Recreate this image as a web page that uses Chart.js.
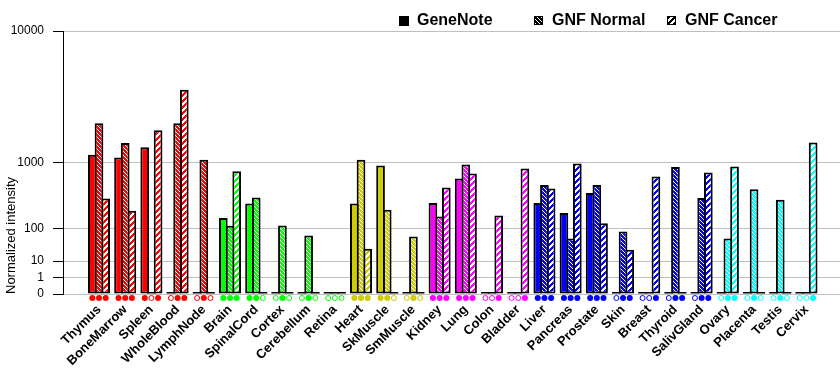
<!DOCTYPE html>
<html>
<head>
<meta charset="utf-8">
<script src="https://cdn.jsdelivr.net/npm/chart.js@4"></script>
<style>
html,body{margin:0;padding:0;background:#fff}
#wrap{width:840px;height:385px}
</style>
</head>
<body>
<div id="wrap"><canvas id="c" width="840" height="385"></canvas></div>
<script>
const tissues=["Thymus","BoneMarrow","Spleen","WholeBlood","LymphNode","Brain","SpinalCord","Cortex","Cerebellum","Retina","Heart","SkMuscle","SmMuscle","Kidney","Lung","Colon","Bladder","Liver","Pancreas","Prostate","Skin","Breast","Thyroid","SalivGland","Ovary","Placenta","Testis","Cervix"]

// null = not measured (hollow marker), 0 = measured, nothing to draw
const geneNote=[1210,1135,1440,null,null,162,290,null,null,null,290,927,null,294,652,null,null,294,200,416,null,null,null,null,null,null,null,null]
const gnfNormal=[2380,1580,null,2380,1070,113,359,115,68,null,1070,228,64,173,951,null,null,536,57,536,85,null,891,351,57,468,331,null]
const gnfCancer=[347,219,2070,4320,null,793,null,null,null,null,29,null,null,498,750,181,859,482,977,127,27,689,0,771,904,null,null,1600]

const seriesNames=["GeneNote","GNF Normal","GNF Cancer"]
const tickValues=[0,1,10,100,1000,10000]

const tissueColors=["#ff0000","#ff0000","#ff0000","#ff0000","#ff0000",
"#00ff00","#00ff00","#00ff00","#00ff00","#00ff00",
"#cccc00","#cccc00","#cccc00",
"#ff00ff","#ff00ff","#ff00ff","#ff00ff",
"#0000ff","#0000ff","#0000ff","#0000ff","#0000ff","#0000ff","#0000ff",
"#00ffff","#00ffff","#00ffff","#00ffff"]

// axis of the original: each decade gets half the height of the one above
function tr(v){
if(v==null||v<=0) return 0
return Math.pow(2,Math.log10(v))
}

const canvas=document.getElementById("c")
const ctx=canvas.getContext("2d")

function tile(color,kind){
let n=kind=="normal"?4:6
let t=document.createElement("canvas")
t.width=n;t.height=n
let g=t.getContext("2d")
if(kind=="normal"){
g.fillStyle=color;g.fillRect(0,0,n,n)
g.fillStyle="#fff"
for(let i=0;i<n;i++) g.fillRect(i,i,1,1)
}else{
g.fillStyle="#fff";g.fillRect(0,0,n,n)
g.fillStyle=color
for(let y=0;y<n;y++)for(let x=0;x<n;x++) if((x+y)%n<3) g.fillRect(x,y,1,1)
}
return ctx.createPattern(t,"repeat")
}

let patterns={}
function fill(color,s){
if(s==0) return color
let k=color+s
if(!patterns[k]) patterns[k]=tile(color,s==1?"normal":"cancer")
return patterns[k]
}

const raw=[geneNote,gnfNormal,gnfCancer]

const datasets=raw.map((arr,s)=>({
label:seriesNames[s],
data:arr.map((v,i)=>({x:i,y:tr(v)})),
backgroundColor:c=>{
if(!c.raw) return "#000"
return c.raw.y==0?"#000":fill(tissueColors[c.dataIndex],s)
},
borderColor:"#000",
borderWidth:c=>(c.raw&&c.raw.y==0)?0:2,
borderSkipped:false,
minBarLength:2,
categoryPercentage:0.765,
barPercentage:1.3
}))

const markers={
id:"markers",
afterDatasetsDraw(chart){
let g=chart.ctx
let y=chart.chartArea.bottom+4
chart.data.datasets.forEach((d,s)=>{
chart.getDatasetMeta(s).data.forEach((bar,i)=>{
let col=tissueColors[i]
g.save()
g.beginPath()
if(raw[s][i]==null){
g.arc(bar.x,y,2.5,0,Math.PI*2)
g.strokeStyle=col;g.lineWidth=1;g.fillStyle="#fff"
g.fill();g.stroke()
}else{
g.arc(bar.x,y,3,0,Math.PI*2)
g.fillStyle=col;g.fill()
}
g.restore()
})
})
}
}

const legendBox={
id:"legendBox",
afterDraw(chart){
let g=chart.ctx
let xs=[399,534,667]
g.save()
g.font="bold 16px 'Liberation Sans', Arial, sans-serif"
g.textBaseline="middle"
g.fillStyle="#000"
seriesNames.forEach((name,s)=>{
let x=xs[s]
if(s==0){
g.fillStyle="#000";g.fillRect(x,16,10,10)
}else{
g.fillStyle=fill("#000",s);g.fillRect(x,16,9,9)
g.strokeStyle="#000";g.lineWidth=1;g.strokeRect(x+0.5,16.5,8,8)
}
g.fillStyle="#000"
g.fillText(name,x+18,21)
})
g.restore()
}
}

new Chart(canvas,{
type:"bar",
data:{datasets:datasets},
options:{
responsive:false,
animation:false,
layout:{padding:{top:31,right:0,left:0,bottom:0}},
plugins:{legend:{display:false},tooltip:{enabled:false}},
scales:{
x:{
type:"linear",
min:-1.374,
max:28.28,
offset:false,
grid:{display:false,drawTicks:false},
border:{display:false},
afterBuildTicks:a=>{a.ticks=tissues.map((t,i)=>({value:i}))},
afterFit:a=>{a.height=91},
ticks:{
autoSkip:false,
maxRotation:45,
minRotation:45,
padding:8,
color:"#000",
font:{family:"'Liberation Sans', Arial, sans-serif",size:13,weight:"bold"},
callback:v=>tissues[v]
}
},
y:{
min:0,
max:16,
afterBuildTicks:a=>{a.ticks=tickValues.map(v=>({value:tr(v)}))},
afterFit:a=>{a.width=63},
grid:{color:"#c0c0c0",tickColor:"#000",tickLength:10,lineWidth:1},
border:{display:true,color:"#000",width:1},
ticks:{
padding:9,
color:"#000",
font:{family:"'Liberation Sans', Arial, sans-serif",size:12},
callback:(v,i)=>String(tickValues[i])
},
title:{
display:true,
text:"Normalized intensity",
align:"start",
color:"#000",
font:{family:"'Liberation Sans', Arial, sans-serif",size:13}
}
}
}
},
plugins:[markers,legendBox]
})
</script>
</body>
</html>
